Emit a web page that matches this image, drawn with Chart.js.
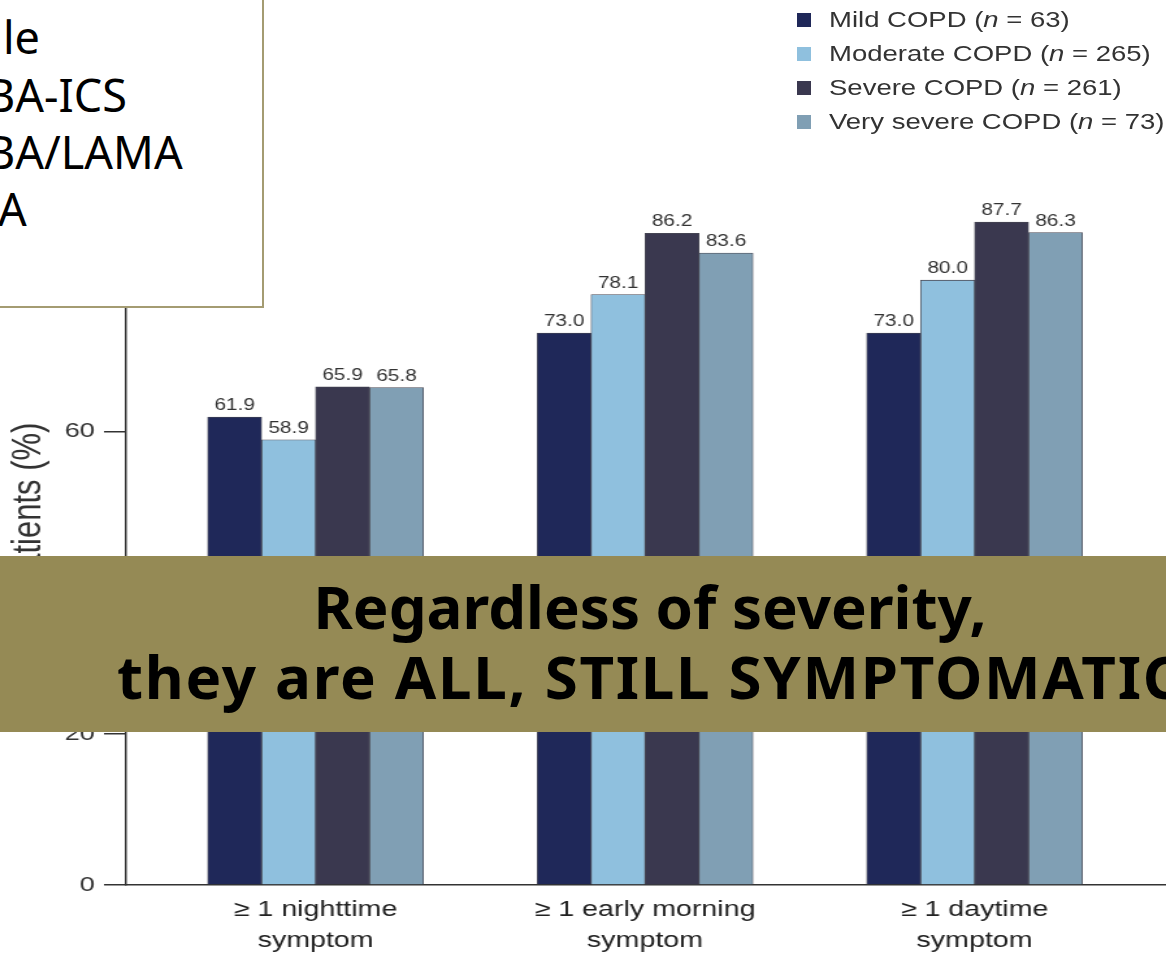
<!DOCTYPE html>
<html>
<head>
<meta charset="utf-8">
<script src="https://cdn.jsdelivr.net/npm/chart.js@4/dist/chart.umd.min.js"></script>
<style>
  html, body { margin: 0; padding: 0; background: #fff; overflow: hidden; }
  #wrap { position: relative; width: 1166px; height: 957px; overflow: hidden; }
  #chart { position: absolute; left: 0; top: 0; }
  #legend { position: absolute; left: 797px; top: 3px; font: 22px "Liberation Sans", Arial, sans-serif; color: #333; }
  #legend .row { display: flex; align-items: center; height: 34px; line-height: 34px; white-space: nowrap; }
  #legend .box { width: 14px; height: 14px; margin-right: 18px; flex: none; }
  #legend .txt { display: inline-block; transform: scaleX(1.25); transform-origin: left center; }
  #note { position: absolute; left: -3px; top: -3px; width: 267px; height: 311px; background: #fff;
          border: 2px solid #a49c72; box-sizing: border-box; overflow: hidden;
          font: 45px "Noto Sans", "Open Sans", sans-serif; color: #000; }
  #note div { position: absolute; white-space: nowrap; line-height: 1; }
  #banner { position: absolute; left: 0; top: 556px; width: 1300px; height: 176px; background: #958a55;
            font: bold 60px "Noto Sans", "Open Sans", sans-serif; color: #000; text-align: center;
            line-height: 70px; padding-top: 15px; box-sizing: border-box; }
  #banner span { letter-spacing: 1.7px; }
</style>
</head>
<body>
<div id="wrap">
  <!-- plot drawn narrow, then shown stretched sideways -->
  <canvas id="chart" width="897" height="957" style="width:1166px;height:957px"></canvas>
  <div id="legend"></div>
  <div id="note">
    <div style="left:4px; top:15px">le</div>
    <div style="left:-13px; top:73px">BA-ICS</div>
    <div style="left:-13px; top:130px">BA/LAMA</div>
    <div style="left:-1px; top:187px">A</div>
  </div>
  <div id="banner">Regardless of severity,<br><span>they are ALL, STILL SYMPTOMATIC</span></div>
</div>
<script>
// symptom groups along the x axis
const categories = [
    ["≥ 1 nighttime", "symptom"],
    ["≥ 1 early morning", "symptom"],
    ["≥ 1 daytime", "symptom"]
];

const severities = ["Mild COPD", "Moderate COPD", "Severe COPD", "Very severe COPD"];
const patientCounts = [63, 265, 261, 73];
const severityColors = ["#1f2859", "#8fc0de", "#3a384f", "#809fb4"];

// % of patients per group
const mild = [61.9, 73.0, 73.0];
const moderate = [58.9, 78.1, 80.0];
const severe = [65.9, 86.2, 87.7];
const verySevere = [65.8, 83.6, 86.3];

const yTicks = [0, 20, 40, 60, 80, 100];

const series = [mild, moderate, severe, verySevere];

const FONT = '"Liberation Sans", Arial, sans-serif';

// value labels above the bars
const valueLabels = {
    id: "valueLabels",
    afterDatasetsDraw(chart) {
        const ctx = chart.ctx;
        ctx.save();
        ctx.font = "16px " + FONT;
        ctx.fillStyle = "#333";
        ctx.textAlign = "center";
        ctx.textBaseline = "alphabetic";
        chart.data.datasets.forEach((ds, i) => {
            chart.getDatasetMeta(i).data.forEach((bar, j) => {
                ctx.fillText(ds.data[j].y.toFixed(1), bar.x, bar.y - 7);
            });
        });
        ctx.restore();
    }
};

new Chart(document.getElementById("chart"), {
    type: "bar",
    data: {
        datasets: series.map((vals, i) => ({
            label: severities[i],
            data: vals.map((v, k) => ({ x: k, y: v })),
            backgroundColor: severityColors[i],
            borderColor: "#4a4a55",
            borderWidth: 0.8,
            barThickness: 41.5
        }))
    },
    options: {
        responsive: false,
        animation: false,
        layout: { padding: { top: 129, right: 0, left: 0, bottom: 0 } },
        plugins: { legend: { display: false }, tooltip: { enabled: false } },
        scales: {
            x: {
                type: "linear",
                min: -0.575,
                max: 2.581,
                offset: false,
                bounds: "data",
                afterBuildTicks: s => { s.ticks = categories.map((c, k) => ({ value: k })); },
                afterFit: s => { s.height = 72; },
                grid: { display: false, drawTicks: false },
                border: { color: "#333", width: 1.5 },
                ticks: {
                    padding: 9,
                    color: "#222",
                    font: { family: FONT, size: 22, lineHeight: 1.42 },
                    callback: v => categories[v] || ""
                }
            },
            y: {
                min: 0,
                max: 100,
                afterBuildTicks: s => { s.ticks = yTicks.map(v => ({ value: v })); },
                afterFit: s => { s.width = 97; },
                grid: { drawOnChartArea: false, drawTicks: true, tickLength: 17, color: "#333", lineWidth: 1.5 },
                border: { color: "#333", width: 1.5 },
                ticks: {
                    padding: 7,
                    color: "#333",
                    font: { family: FONT, size: 21 }
                },
                title: {
                    display: true,
                    text: "Patients (%)",
                    color: "#333",
                    padding: { top: 4, bottom: 0 },
                    font: { family: FONT, size: 31 }
                }
            }
        }
    },
    plugins: [valueLabels]
});

// legend with italic n
const legend = document.getElementById("legend");
severities.forEach((name, i) => {
    const row = document.createElement("div");
    row.className = "row";
    row.innerHTML = '<span class="box" style="background:' + severityColors[i] + '"></span>' +
        '<span class="txt">' + name + " (<i>n</i>&nbsp;= " + patientCounts[i] + ")</span>";
    legend.appendChild(row);
});
</script>
</body>
</html>
